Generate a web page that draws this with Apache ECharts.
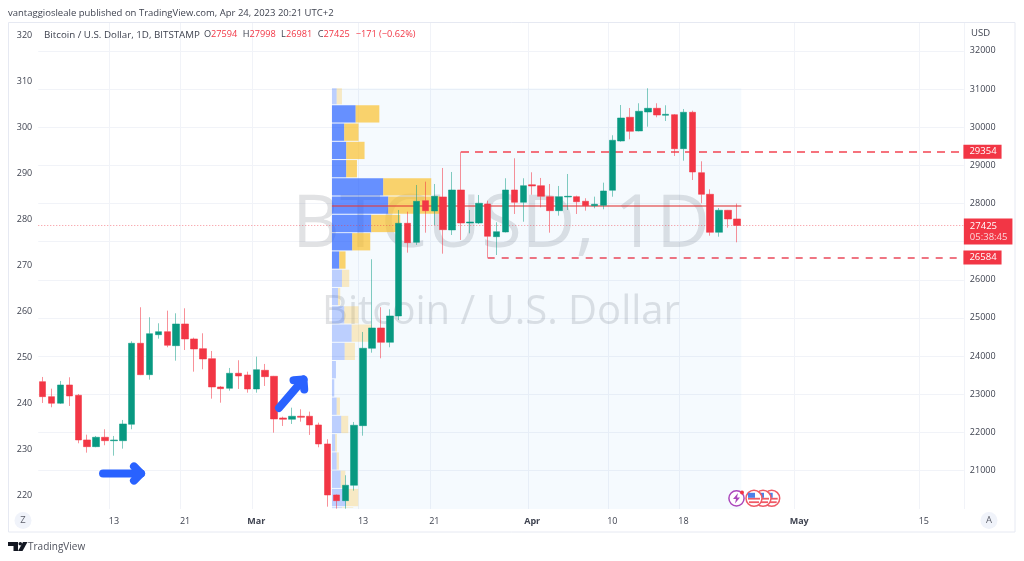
<!DOCTYPE html>
<html>
<head>
<meta charset="utf-8">
<style>
    html, body { margin: 0; padding: 0; background: #fff; }
    #chart { width: 1024px; height: 561px; }
</style>
<script src="https://cdn.jsdelivr.net/npm/echarts@6/dist/echarts.min.js"></script>
</head>
<body>
<div id="chart"></div>
<script>
// daily candles (Feb 5 .. Apr 24 2023)
const candleOpen = [
    23329,22936,22763,23242,22972,21801,21625,21871,21780,21782,
    22212,24335,23512,24560,24639,24272,24841,24448,24194,23932,
    23190,23155,23549,23504,23137,23627,23470,22377,22343,22422,
    22422,22194,21696,20359,20210,20613,22176,24204,24736,24361,
    25051,27480,26982,28073,27803,28170,27305,28353,27488,27488,
    27986,27129,27252,28353,28031,28490,28466,28178,27811,28170,
    28178,28057,27942,27952,28345,29637,30259,29900,30397,30494,
    30310,30327,29436,30390,28807,28240,27244,27821,27594];
const candleClose = [
    22936,22763,23242,22954,21801,21625,21871,21782,21800,22220,
    24335,23512,24587,24639,24283,24841,24448,24186,23924,23190,
    23145,23549,23478,23137,23643,23460,22351,22343,22422,22396,
    22194,21696,20359,20210,20613,22186,24204,24736,24361,25051,
    27480,26972,28057,27811,28188,27313,28353,27488,27514,28005,
    27140,27260,28353,28031,28466,28458,28188,27811,28178,28188,
    28046,27942,27978,28327,29656,30240,29892,30416,30494,30319,
    30337,29436,30390,28825,28240,27244,27821,27593,27425];
const candleLow = [
    22770,22658,22744,22692,21714,21468,21610,21662,21389,21573,
    22081,23500,23381,24456,24230,23879,24159,23591,23654,22883,
    22778,23093,23137,23040,23040,23216,21992,22168,22220,22280,
    21932,21609,20052,20000,20000,20472,21913,24089,23942,24230,
    24946,26710,26912,27234,27436,26684,27174,27043,27218,27462,
    26579,26649,27240,27724,27522,28230,27900,27234,27680,27829,
    27724,27811,27874,27847,28177,29620,29682,29890,30012,30259,
    30162,29244,29121,28615,28005,27155,27129,27365,26981];
const candleHigh = [
    23452,23145,23347,23444,23006,21939,21905,22081,21905,22325,
    24388,25279,25017,24859,25190,25121,25252,24482,24597,24133,
    23216,23688,23890,23591,23984,23793,23480,22411,22647,22605,
    22543,22254,21819,20370,20875,22272,24631,26537,25279,25226,
    27829,27784,28484,28571,28510,28930,28825,29357,27829,28222,
    28073,27506,28660,29184,28660,28817,28668,28510,28458,28772,
    28204,28136,28178,28545,29787,30581,30502,30626,31019,30626,
    30573,30345,30476,30432,29105,28371,27881,27830,27998];

const categories = [
    '02-05','02-06','02-07','02-08','02-09','02-10','02-11','02-12','02-13','02-14','02-15','02-16',
    '02-17','02-18','02-19','02-20','02-21','02-22','02-23','02-24','02-25','02-26','02-27','02-28',
    '03-01','03-02','03-03','03-04','03-05','03-06','03-07','03-08','03-09','03-10','03-11','03-12',
    '03-13','03-14','03-15','03-16','03-17','03-18','03-19','03-20','03-21','03-22','03-23','03-24',
    '03-25','03-26','03-27','03-28','03-29','03-30','03-31','04-01','04-02','04-03','04-04','04-05',
    '04-06','04-07','04-08','04-09','04-10','04-11','04-12','04-13','04-14','04-15','04-16','04-17',
    '04-18','04-19','04-20','04-21','04-22','04-23','04-24','04-25','04-26','04-27','04-28','04-29',
    '04-30','05-01','05-02','05-03','05-04','05-05','05-06','05-07','05-08','05-09','05-10','05-11',
    '05-12','05-13','05-14','05-15','05-16','05-17','05-18','05-19'];
const xTickDates = ['02-13','02-21','03-01','03-13','03-21','04-01','04-10','04-18','05-01','05-15'];
const xTickLabels = ['13','21','{b|Mar}','13','21','{b|Apr}','10','18','{b|May}','15'];
const rightTicks = [21000,22000,23000,24000,25000,26000,27000,28000,29000,30000,31000,32000];
const leftTicks = [220,230,240,250,260,270,280,290,300,310,320];

// fixed range volume profile, one row per price level
const profileLevels = [31019,30574,30095,29616,29137,28659,28180,27701,27222,26743,26264,25785,
    25306,24827,24348,23870,23391,22912,22433,21954,21475,20996,20517,20038,19995];
const profileUp = [4.7,23.7,12.3,14.3,14.3,51.3,56.3,39.3,20.3,7.3,10,6,12.3,19.7,12.7,4,2.3,4.7,9.3,3.3,4.7,8.7,14,10];
const profileDown = [5.3,23.7,14.3,18.3,10.7,48,52,29,18,6.3,7.3,2.3,14.3,20.3,10.3,0,0,3.3,7,1.7,2.3,4.7,12.3,11.3];
const valueAreaRows = [1,2,3,4,5,6,7,8,9];
const pocPrice = 27942;

const lastPrice = 27425;
const topLevel = 29354, topLevelFrom = '03-24';
const bottomLevel = 26584, bottomLevelFrom = '03-27';

// arrows: [day from Feb 5, price] to [day, price]
const arrowLines = [[6.78,20922,11.05,20922],[26.55,22640,29.3,23386]];

const red = '#f23645', green = '#089981', blue = '#2962ff';
const textColor = '#3f4350';
const gridColor = '#f1f3f8';
const font = '"Open Sans", sans-serif';

const priceMin = 19991, priceMax = 32730;
const leftMin = 216.96, leftMax = 322.6;
const plotTop = 23, plotHeight = 486;
const volumeMax = 409.4;

const profileRows = profileUp.map(function (up, i) {
    return [up, profileDown[i], profileLevels[i], profileLevels[i + 1], valueAreaRows.indexOf(i) >= 0 ? 1 : 0];
});

function renderProfile(params, api) {
    const strong = api.value(4) === 1;
    const up = api.value(0), down = api.value(1);
    const p0 = api.coord([0, api.value(2)]);
    const p1 = api.coord([up, api.value(3)]);
    const p2 = api.coord([up + down, api.value(3)]);
    const h = p1[1] - p0[1] - 1;
    return {
        type: 'group',
        children: [
            { type: 'rect', shape: { x: p0[0], y: p0[1], width: p1[0] - p0[0], height: h },
              style: { fill: strong ? 'rgba(41,98,255,0.7)' : 'rgba(41,98,255,0.28)' } },
            { type: 'rect', shape: { x: p1[0], y: p0[1], width: p2[0] - p1[0], height: h },
              style: { fill: strong ? 'rgba(251,192,45,0.7)' : 'rgba(251,192,45,0.28)' } }
        ]
    };
}

function renderArrow(params, api) {
    const a = api.coord([api.value(0), api.value(1)]);
    const b = api.coord([api.value(2), api.value(3)]);
    const ang = Math.atan2(b[1] - a[1], b[0] - a[0]);
    const len = 10;
    const h1 = [b[0] - len * Math.cos(ang - Math.PI / 4), b[1] - len * Math.sin(ang - Math.PI / 4)];
    const h2 = [b[0] - len * Math.cos(ang + Math.PI / 4), b[1] - len * Math.sin(ang + Math.PI / 4)];
    const st = { stroke: blue, lineWidth: 8, lineCap: 'round', lineJoin: 'round', fill: null };
    return {
        type: 'group',
        children: [
            { type: 'polyline', shape: { points: [a, b] }, style: st },
            { type: 'polyline', shape: { points: [h1, b, h2] }, style: st }
        ]
    };
}

function flagIcon(cx, cy) {
    return [
        { type: 'circle', shape: { cx: cx, cy: cy, r: 8 }, style: { fill: '#fff', stroke: '#ef5a66', lineWidth: 1.5 }, z: 20 },
        { type: 'rect', shape: { x: cx - 6, y: cy - 0.5, width: 12, height: 1.8 }, style: { fill: '#ef5a66' }, z: 20 },
        { type: 'rect', shape: { x: cx - 5, y: cy + 3, width: 10, height: 1.8 }, style: { fill: '#ef5a66' }, z: 20 },
        { type: 'rect', shape: { x: cx - 6, y: cy - 5.5, width: 7, height: 5 }, style: { fill: '#4d7fe8' }, z: 20 }
    ];
}

const chart = echarts.init(document.getElementById('chart'));
chart.setOption({
    animation: false,
    backgroundColor: '#fff',
    grid: [
        { left: 38.25, top: plotTop, width: 925.6, height: plotHeight },
        { left: 331.95, top: plotTop, width: volumeMax, height: plotHeight }
    ],
    xAxis: [
        {
            type: 'category', gridIndex: 0, data: categories,
            axisLine: { show: false },
            axisTick: { show: false, alignWithLabel: true, customValues: xTickDates.map(function (d) { return categories.indexOf(d); }) },
            splitLine: { show: true, lineStyle: { color: gridColor, width: 1 } },
            axisLabel: {
                customValues: xTickDates.map(function (d) { return categories.indexOf(d); }),
                formatter: function (v) { return xTickLabels[xTickDates.indexOf(v)]; },
                color: textColor, fontFamily: font, fontSize: 9, margin: 8, alignWithLabel: true,
                rich: { b: { fontWeight: 'bold', color: textColor, fontFamily: font, fontSize: 9 } }
            }
        },
        { type: 'value', gridIndex: 0, min: -0.5, max: 103.5, show: false },
        { type: 'value', gridIndex: 1, min: 0, max: volumeMax, show: false }
    ],
    yAxis: [
        {
            type: 'value', gridIndex: 0, position: 'right', min: priceMin, max: priceMax,
            axisLine: { show: false },
            axisTick: { show: false, customValues: rightTicks },
            splitLine: { show: true, lineStyle: { color: gridColor, width: 1 } },
            axisLabel: { customValues: rightTicks, formatter: function (v) { return String(v); }, color: textColor, fontFamily: font, fontSize: 9, margin: 6 }
        },
        {
            type: 'value', gridIndex: 0, position: 'left', min: leftMin, max: leftMax,
            axisLine: { show: false }, splitLine: { show: false },
            axisTick: { show: false, customValues: leftTicks },
            axisLabel: { customValues: leftTicks, color: textColor, fontFamily: font, fontSize: 9, margin: 6 }
        },
        { type: 'value', gridIndex: 1, min: priceMin, max: priceMax, show: false }
    ],
    series: [
        {
            name: 'profile', type: 'custom', xAxisIndex: 2, yAxisIndex: 2, z: 3, clip: true,
            silent: true, renderItem: renderProfile, data: profileRows,
            markArea: {
                silent: true, itemStyle: { color: 'rgba(20,150,240,0.045)' },
                data: [[{ xAxis: 0, yAxis: profileLevels[0] }, { xAxis: volumeMax, yAxis: priceMin }]]
            },
            markLine: {
                silent: true, symbol: 'none', label: { show: false },
                lineStyle: { color: 'rgba(226,60,60,0.75)', width: 1.5, type: 'solid' },
                data: [[{ xAxis: 0, yAxis: pocPrice }, { xAxis: volumeMax, yAxis: pocPrice }]]
            }
        },
        {
            name: 'BTCUSD', type: 'candlestick', xAxisIndex: 0, yAxisIndex: 0, z: 5, barWidth: 7,
            data: candleOpen.map(function (o, i) { return [o, candleClose[i], candleLow[i], candleHigh[i]]; }),
            itemStyle: {
                color: green, color0: red, borderWidth: 1,
                borderColor: 'rgba(8,153,129,0.5)', borderColor0: 'rgba(242,54,69,0.55)'
            },
            markLine: {
                silent: true, symbol: 'none', precision: 0,
                data: [
                    {
                        yAxis: lastPrice,
                        lineStyle: { color: 'rgba(242,54,69,0.55)', width: 1, type: [1, 2] },
                        label: {
                            position: 'end', distance: 0, offset: [0, 6.2], backgroundColor: red, padding: [2, 5, 2, 6],
                            formatter: '{a|' + lastPrice + '}\n{c|05:38:45}',
                            rich: {
                                a: { color: '#fff', fontFamily: font, fontSize: 9.5, lineHeight: 11 },
                                c: { color: '#fbd5d9', fontFamily: font, fontSize: 9.5, lineHeight: 11 }
                            }
                        }
                    },
                    [
                        {
                            coord: [topLevelFrom, topLevel],
                            lineStyle: { color: 'rgba(242,54,69,0.7)', width: 2, type: [8, 6] },
                            label: {
                                position: 'end', distance: 4, backgroundColor: red, padding: [2, 5, 2, 6],
                                color: '#fff', fontFamily: font, fontSize: 9.5, formatter: String(topLevel)
                            }
                        },
                        { coord: ['05-19', topLevel] }
                    ],
                    [
                        {
                            coord: [bottomLevelFrom, bottomLevel],
                            lineStyle: { color: 'rgba(230,40,60,0.85)', width: 1.5, type: [7, 7] },
                            label: {
                                position: 'end', distance: 4, backgroundColor: red, padding: [2, 5, 2, 6],
                                color: '#fff', fontFamily: font, fontSize: 9.5, formatter: String(bottomLevel)
                            }
                        },
                        { coord: ['05-19', bottomLevel] }
                    ]
                ]
            }
        },
        {
            name: 'arrows', type: 'custom', xAxisIndex: 1, yAxisIndex: 0, z: 6, silent: true,
            renderItem: renderArrow, data: arrowLines
        }
    ],
    graphic: {
        elements: [
            { type: 'rect', shape: { x: 8.5, y: 22.5, width: 1006.5, height: 509.5 }, style: { fill: 'none', stroke: '#e6e9f2', lineWidth: 1 }, z: 0 },
            { type: 'text', x: 8, y: 8, z: 10, style: { text: 'vantaggiosleale published on TradingView.com, Apr 24, 2023 20:21 UTC+2', fill: '#3f4350', font: '9.5px ' + font } },
            { type: 'text', x: 44, y: 30, z: 10, style: { text: 'Bitcoin / U.S. Dollar, 1D, BITSTAMP', fill: '#3f4350', font: '9.75px ' + font } },
            { type: 'text', x: 204, y: 30, z: 10, style: { text: 'O', fill: '#3f4350', font: '9.2px ' + font } },
            { type: 'text', x: 211, y: 30, z: 10, style: { text: '27594', fill: red, font: '9.2px ' + font } },
            { type: 'text', x: 242.7, y: 30, z: 10, style: { text: 'H', fill: '#3f4350', font: '9.2px ' + font } },
            { type: 'text', x: 249.5, y: 30, z: 10, style: { text: '27998', fill: red, font: '9.2px ' + font } },
            { type: 'text', x: 281, y: 30, z: 10, style: { text: 'L', fill: '#3f4350', font: '9.2px ' + font } },
            { type: 'text', x: 286, y: 30, z: 10, style: { text: '26981', fill: red, font: '9.2px ' + font } },
            { type: 'text', x: 317.7, y: 30, z: 10, style: { text: 'C', fill: '#3f4350', font: '9.2px ' + font } },
            { type: 'text', x: 323.5, y: 30, z: 10, style: { text: '27425', fill: red, font: '9.2px ' + font } },
            { type: 'text', x: 355.7, y: 30, z: 10, style: { text: '\u2212171 (\u22120.62%)', fill: red, font: '9.2px ' + font } },
            { type: 'text', x: 971, y: 28, z: 10, style: { text: 'USD', fill: '#3f4350', font: '9.5px ' + font } },
            // watermark
            { type: 'text', x: 501, y: 226, z: 1, style: { text: 'BTCUSD, 1D', fill: 'rgba(120,123,134,0.22)', font: '74px ' + font, textAlign: 'center', textVerticalAlign: 'middle' } },
            { type: 'text', x: 501, y: 313, z: 1, style: { text: 'Bitcoin / U.S. Dollar', fill: 'rgba(120,123,134,0.22)', font: '40px ' + font, textAlign: 'center', textVerticalAlign: 'middle' } },
            // scale buttons
            { type: 'circle', shape: { cx: 23, cy: 520.5, r: 8.5 }, style: { fill: '#f0f3fa' }, z: 10 },
            { type: 'text', x: 23, y: 520.5, z: 11, style: { text: 'Z', fill: '#5d606b', font: '9.5px ' + font, textAlign: 'center', textVerticalAlign: 'middle' } },
            { type: 'circle', shape: { cx: 989, cy: 520.5, r: 8.5 }, style: { fill: '#f0f3fa' }, z: 10 },
            { type: 'text', x: 989, y: 520.5, z: 11, style: { text: 'A', fill: '#5d606b', font: '9.5px ' + font, textAlign: 'center', textVerticalAlign: 'middle' } },
            // footer logo
            { type: 'polygon', shape: { points: [[8,542],[18,542],[18,551],[13.5,551],[13.5,546],[8,546]] }, style: { fill: '#131722' }, z: 10 },
            { type: 'circle', shape: { cx: 20.3, cy: 543.8, r: 1.8 }, style: { fill: '#131722' }, z: 10 },
            { type: 'polygon', shape: { points: [[23,542],[27.5,542],[22.5,551],[18,551]] }, style: { fill: '#131722' }, z: 10 },
            { type: 'text', x: 28, y: 542, z: 10, style: { text: 'TradingView', fill: '#50535e', font: '10px ' + font } },
            // event icons
            { type: 'circle', shape: { cx: 736.5, cy: 498.3, r: 7.6 }, style: { fill: '#fff', stroke: '#ab47bc', lineWidth: 1.5 }, z: 20 },
            { type: 'polygon', shape: { points: [[738,493],[733,499],[736,499],[735,503.5],[740,497.5],[737,497.5]] }, style: { fill: '#ab47bc' }, z: 20 },
            { type: 'circle', shape: { cx: 742, cy: 492.5, r: 2 }, style: { fill: red }, z: 20 }
        ].concat(flagIcon(771.7, 498.3), flagIcon(763, 498.3), flagIcon(754, 498.3))
    }
});
</script>
</body>
</html>
